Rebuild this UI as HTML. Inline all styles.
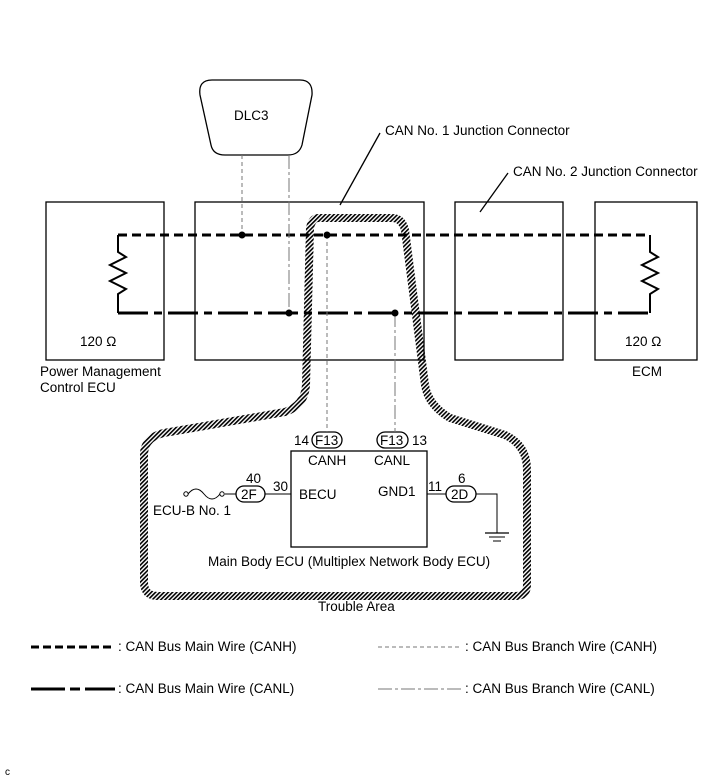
<!DOCTYPE html>
<html><head><meta charset="utf-8"><style>
body{margin:0;background:#fff}
svg{display:block;font-family:"Liberation Sans",sans-serif;font-size:13.5px}
</style></head><body>
<svg width="713" height="782" viewBox="0 0 713 782">
<defs>
<pattern id="h" width="3" height="3" patternUnits="userSpaceOnUse" patternTransform="rotate(45)">
<rect width="3" height="3" fill="#fff"/><rect width="1.6" height="3" fill="#000"/>
</pattern>
</defs>
<path d="M318,218 L392,218 Q402,218 405,230 L425,385 Q428,405 450,418 L505,435 Q527,445 527,470 L527,585 Q527,596 515,596 L158,596 Q144,596 144,582 L144,455 Q144,435 170,432 L285,412 Q305,405 306,385 L310,228 Q312,218 318,218 Z" fill="none" stroke="url(#h)" stroke-width="8"/>
<g fill="none" stroke="#000" stroke-width="1.3">
<rect x="46" y="202" width="118" height="158"/>
<rect x="195" y="202" width="229" height="158"/>
<rect x="455" y="202" width="108" height="158"/>
<rect x="595" y="202" width="102" height="158"/>
<path d="M212,80 L300,80 Q313,80 312,95 L302,145 Q299,155 288,155 L225,155 Q213,155 211,145 L200,95 Q198,80 212,80 Z"/>
<line x1="380" y1="133" x2="340" y2="205"/>
<line x1="508" y1="173" x2="480" y2="212"/>
<rect x="291" y="451" width="136" height="96"/>
<rect x="312" y="432" width="30" height="16" rx="8"/>
<rect x="377" y="432" width="31" height="16" rx="8"/>
<rect x="236" y="486" width="29" height="16" rx="8"/>
<rect x="446" y="486" width="30" height="16" rx="8"/>
<line x1="265" y1="494" x2="291" y2="494" stroke-width="1"/>
<line x1="225" y1="494" x2="236" y2="494" stroke-width="1"/>
<line x1="427" y1="494" x2="446" y2="494" stroke-width="1"/>
<polyline points="476,494 497,494 497,533" stroke-width="1"/>
<line x1="485" y1="533" x2="509" y2="533"/>
<line x1="489" y1="537" x2="505" y2="537" stroke-width="1"/>
<line x1="493" y1="541" x2="501" y2="541" stroke-width="1"/>
<path d="M188,494 Q196,484 204,494 T220,494" stroke-width="1"/>
<circle cx="186" cy="494" r="2.2" stroke-width="1"/>
<circle cx="222" cy="494" r="2.2" stroke-width="1"/>
<polyline points="118,235 118,252 126,257 110,265 126,273 110,281 126,289 118,294 118,313" stroke-width="2"/>
<polyline points="650,235 650,252 658,257 642,265 658,273 642,281 658,289 650,294 650,313" stroke-width="2"/>
</g>
<line x1="118" y1="235" x2="650" y2="235" stroke="#000" stroke-width="3" stroke-dasharray="9,5"/>
<line x1="118" y1="313" x2="650" y2="313" stroke="#000" stroke-width="3" stroke-dasharray="30,6,8,6"/>
<line x1="242" y1="155" x2="242" y2="235" stroke="#777" stroke-width="1" stroke-dasharray="4,3"/>
<line x1="289" y1="155" x2="289" y2="313" stroke="#777" stroke-width="1" stroke-dasharray="14,3,3,3"/>
<line x1="327" y1="235" x2="327" y2="432" stroke="#777" stroke-width="1" stroke-dasharray="4,3"/>
<line x1="395" y1="313" x2="395" y2="432" stroke="#777" stroke-width="1" stroke-dasharray="14,3,3,3"/>
<circle cx="242" cy="235" r="3.5"/><circle cx="327" cy="235" r="3.5"/>
<circle cx="289" cy="313" r="3.5"/><circle cx="395" cy="313" r="3.5"/>
<g fill="#000">
<text x="234" y="120">DLC3</text>
<text x="385" y="135">CAN No. 1 Junction Connector</text>
<text x="513" y="176">CAN No. 2 Junction Connector</text>
<text x="80" y="346">120 Ω</text>
<text x="625" y="346">120 Ω</text>
<text x="40" y="376">Power Management</text>
<text x="40" y="392">Control ECU</text>
<text x="632" y="376">ECM</text>
<text x="294" y="445">14</text><text x="315" y="445">F13</text>
<text x="380" y="445">F13</text><text x="412" y="445">13</text>
<text x="308" y="465">CANH</text><text x="374" y="465">CANL</text>
<text x="246" y="483">40</text><text x="241" y="499">2F</text>
<text x="273" y="491">30</text>
<text x="299" y="499">BECU</text><text x="378" y="496">GND1</text>
<text x="428" y="491">11</text><text x="458" y="483">6</text><text x="451" y="499">2D</text>
<text x="153" y="515">ECU-B No. 1</text>
<text x="208" y="566">Main Body ECU (Multiplex Network Body ECU)</text>
<text x="318" y="611">Trouble Area</text>
<text x="118" y="651">: CAN Bus Main Wire (CANH)</text>
<text x="118" y="693">: CAN Bus Main Wire (CANL)</text>
<text x="465" y="651">: CAN Bus Branch Wire (CANH)</text>
<text x="465" y="693">: CAN Bus Branch Wire (CANL)</text>
<text x="5" y="775" font-size="10">c</text>
</g>
<line x1="31" y1="647" x2="115" y2="647" stroke="#000" stroke-width="3" stroke-dasharray="8,4"/>
<line x1="31" y1="689" x2="65" y2="689" stroke="#000" stroke-width="3"/>
<line x1="70" y1="689" x2="80" y2="689" stroke="#000" stroke-width="3"/>
<line x1="85" y1="689" x2="115" y2="689" stroke="#000" stroke-width="3"/>
<line x1="378" y1="647" x2="462" y2="647" stroke="#777" stroke-width="1" stroke-dasharray="4,3"/>
<line x1="378" y1="689" x2="462" y2="689" stroke="#777" stroke-width="1" stroke-dasharray="14,3,3,3"/>
</svg>
</body></html>
